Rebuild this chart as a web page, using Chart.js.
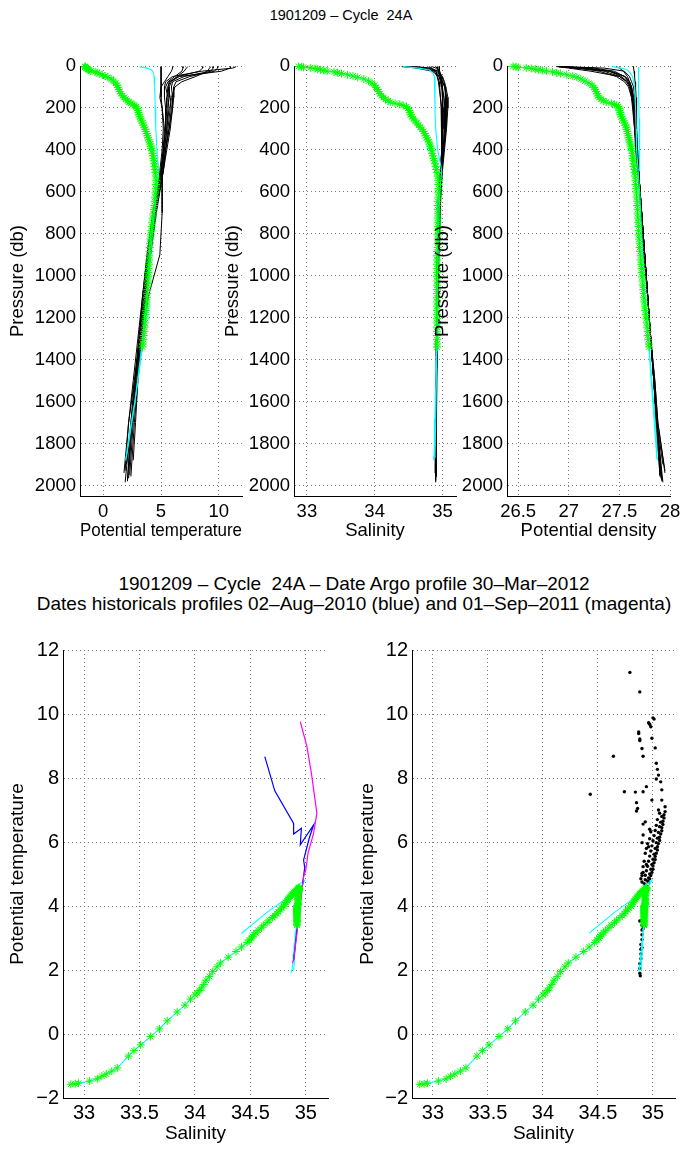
<!DOCTYPE html>
<html>
<head>
<meta charset="utf-8">
<script src="https://cdn.jsdelivr.net/npm/chart.js@4.4.1/dist/chart.umd.min.js"></script>
<style>
  html, body { margin: 0; padding: 0; background: #fff; }
  body { width: 682px; height: 1149px; position: relative; overflow: hidden;
         font-family: "Liberation Sans", Arial, Helvetica, sans-serif; color: #000; }
  .panel { position: absolute; }
  .title { position: absolute; text-align: center; white-space: nowrap; }
</style>
</head>
<body>
<div class="title" style="left:0;width:682px;top:6px;font-size:14.5px;line-height:18px;">1901209 – Cycle&nbsp; 24A</div>
<div class="title" style="left:13px;width:682px;top:574px;font-size:19px;line-height:20px;">1901209 – Cycle&nbsp; 24A – Date Argo profile 30–Mar–2012<br>Dates historicals profiles 02–Aug–2010 (blue) and 01–Sep–2011 (magenta)</div>

<canvas class="panel" id="pTemp" width="250" height="496" style="left:0;top:50px"></canvas>
<canvas class="panel" id="pSal" width="247" height="496" style="left:215px;top:50px"></canvas>
<canvas class="panel" id="pDens" width="257" height="496" style="left:425px;top:50px"></canvas>
<canvas class="panel" id="tsHist" width="340" height="519" style="left:0;top:630px"></canvas>
<canvas class="panel" id="tsDots" width="332" height="519" style="left:350px;top:630px"></canvas>

<script>
/* ============================================================================
   DATA — float profile (green stars + cyan line)
   ============================================================================ */
const floatP = [2, 4, 6, 9, 12, 15, 18, 21, 24, 28, 32, 36, 42, 48, 54, 62, 72, 82, 92, 102,
  112, 122, 132, 142, 150, 158, 166, 172, 178, 183, 188, 194, 202, 212, 222, 232, 242, 252, 262, 272,
  282, 292, 302, 312, 322, 332, 342, 352, 362, 372, 382, 392, 404, 416, 428, 440, 452, 466, 480, 494,
  508, 525, 545, 565, 585, 605, 625, 645, 665, 685, 705, 725, 745, 765, 785, 805, 825, 845, 865, 885,
  905, 925, 945, 965, 985, 1005, 1025, 1045, 1065, 1085, 1105, 1125, 1145, 1165, 1185, 1205, 1225, 1245, 1265, 1285,
  1305, 1325, 1340];
const floatT = [-1.57, -1.56, -1.54, -1.47, -1.40, -1.32, -1.25, -1.16, -1.06, -0.69, -0.52, -0.34, -0.08, 0.16, 0.41, 0.69, 0.90, 1.09, 1.22, 1.28,
  1.36, 1.44, 1.55, 1.68, 1.80, 1.95, 2.10, 2.22, 2.40, 2.58, 2.72, 2.86, 2.94, 3.00, 3.05, 3.10, 3.16, 3.24, 3.32, 3.40,
  3.48, 3.56, 3.64, 3.70, 3.76, 3.82, 3.88, 3.94, 4.00, 4.06, 4.11, 4.16, 4.21, 4.26, 4.30, 4.34, 4.38, 4.42, 4.45, 4.48,
  4.52, 4.55, 4.58, 4.57, 4.55, 4.52, 4.48, 4.45, 4.42, 4.38, 4.33, 4.28, 4.24, 4.20, 4.16, 4.12, 4.08, 4.05, 4.03, 4.01,
  3.99, 3.97, 3.95, 3.93, 3.91, 3.89, 3.87, 3.85, 3.83, 3.81, 3.79, 3.77, 3.74, 3.71, 3.68, 3.65, 3.62, 3.59, 3.55, 3.51,
  3.47, 3.43, 3.40];
const floatS = [32.88, 32.92, 32.95, 33.05, 33.12, 33.16, 33.20, 33.25, 33.30, 33.40, 33.45, 33.51, 33.60, 33.68, 33.75, 33.84, 33.91, 33.96, 34.00, 34.02,
  34.04, 34.06, 34.08, 34.10, 34.13, 34.16, 34.20, 34.23, 34.30, 34.37, 34.42, 34.47, 34.49, 34.51, 34.52, 34.53, 34.55, 34.57, 34.60, 34.62,
  34.65, 34.67, 34.70, 34.72, 34.74, 34.75, 34.77, 34.78, 34.80, 34.81, 34.82, 34.83, 34.84, 34.85, 34.86, 34.87, 34.88, 34.89, 34.90, 34.91,
  34.92, 34.93, 34.94, 34.94, 34.94, 34.94, 34.94, 34.93, 34.93, 34.93, 34.93, 34.93, 34.93, 34.93, 34.93, 34.93, 34.93, 34.93, 34.93, 34.92,
  34.92, 34.92, 34.92, 34.92, 34.92, 34.92, 34.92, 34.92, 34.92, 34.92, 34.92, 34.92, 34.92, 34.92, 34.92, 34.92, 34.92, 34.92, 34.92, 34.92,
  34.92, 34.92, 34.92];
const floatD = [26.45, 26.48, 26.50, 26.58, 26.63, 26.67, 26.70, 26.74, 26.78, 26.84, 26.88, 26.92, 26.98, 27.04, 27.08, 27.12, 27.16, 27.20, 27.23, 27.25,
  27.26, 27.27, 27.28, 27.29, 27.30, 27.32, 27.34, 27.37, 27.42, 27.45, 27.47, 27.49, 27.50, 27.50, 27.51, 27.51, 27.52, 27.53, 27.54, 27.55,
  27.56, 27.57, 27.57, 27.58, 27.58, 27.59, 27.59, 27.60, 27.60, 27.61, 27.61, 27.62, 27.62, 27.63, 27.63, 27.63, 27.64, 27.64, 27.64, 27.65,
  27.65, 27.655, 27.66, 27.66, 27.665, 27.67, 27.67, 27.675, 27.675, 27.68, 27.68, 27.685, 27.685, 27.69, 27.69, 27.69, 27.695, 27.70, 27.70, 27.705,
  27.71, 27.71, 27.715, 27.72, 27.72, 27.725, 27.73, 27.73, 27.735, 27.74, 27.74, 27.745, 27.75, 27.755, 27.76, 27.765, 27.77, 27.775, 27.78, 27.78,
  27.785, 27.79, 27.795];

// deep part of the float profile (cyan line only)
const deepP = [1380, 1440, 1500, 1560, 1620, 1680, 1740, 1800, 1860, 1880];
const deepT = [3.30, 3.15, 3.00, 2.85, 2.68, 2.50, 2.32, 2.15, 2.00, 1.95];
const deepS = [34.915, 34.91, 34.905, 34.90, 34.895, 34.89, 34.885, 34.88, 34.875, 34.87];
const deepD = [27.80, 27.81, 27.82, 27.83, 27.84, 27.85, 27.86, 27.865, 27.87, 27.875];

/* second cyan profile */
const refP = [3, 10, 19, 35, 50, 100, 200, 300, 400, 500, 600, 800, 1000, 1200, 1400, 1600, 1800, 1870];
const refT = [3.15, 3.80, 4.20, 4.35, 4.40, 4.45, 4.50, 4.55, 4.65, 4.80, 4.60, 4.25, 3.95, 3.60, 3.20, 2.75, 2.20, 1.98];
const refS = [34.42, 34.65, 34.81, 34.86, 34.88, 34.89, 34.89, 34.90, 34.93, 34.99, 34.96, 34.94, 34.93, 34.92, 34.91, 34.905, 34.895, 34.89];
const refD = [27.43, 27.52, 27.58, 27.61, 27.63, 27.65, 27.66, 27.665, 27.67, 27.685, 27.70, 27.72, 27.74, 27.77, 27.80, 27.83, 27.86, 27.87];
const refD2P = [5, 120, 250, 380, 500];
const refD2 = [27.69, 27.69, 27.695, 27.70, 27.70];

/* historical profiles (black) — shared levels, last level = histEnd */
const histP = [3, 10, 25, 50, 75, 100, 150, 200, 300, 400, 500, 700, 900, 1100, 1300, 1500, 1700];
const histEnd = [1975, 1985, 1957, 1880, 1940, 1965, 1930, 1980, 1900, 1950];
const histT = [
  [5.0, 5.0, 5.0, 5.0, 5.0, 5.0, 5.05, 5.1, 5.2, 5.1, 4.9, 4.5, 4.1, 3.7, 3.3, 2.9, 2.5, 2.1],
  [6.0, 6.0, 5.9, 5.6, 5.3, 5.0, 4.9, 5.1, 5.3, 5.2, 5.0, 4.4, 4.0, 3.6, 3.2, 2.8, 2.4, 1.9],
  [6.9, 6.9, 6.8, 6.2, 5.6, 5.4, 5.6, 5.7, 5.5, 5.3, 5.1, 5.1, 4.9, 3.9, 3.4, 3.0, 2.7, 2.4],
  [8.6, 8.6, 8.3, 6.5, 5.7, 5.6, 5.8, 5.9, 5.7, 5.4, 5.2, 4.6, 4.1, 3.7, 3.3, 3.0, 2.8, 2.6],
  [9.5, 9.5, 9.3, 7.0, 6.0, 5.9, 6.0, 6.0, 5.8, 5.5, 5.2, 4.5, 4.0, 3.6, 3.2, 2.7, 2.2, 1.8],
  [9.9, 9.9, 9.6, 7.5, 6.3, 6.1, 6.1, 6.0, 5.7, 5.4, 5.1, 4.4, 3.9, 3.5, 3.1, 2.8, 2.5, 2.2],
  [11.0, 11.0, 10.2, 6.6, 5.8, 5.6, 5.5, 5.5, 5.4, 5.2, 5.0, 4.3, 3.8, 3.4, 3.0, 2.6, 2.2, 1.9],
  [11.5, 11.2, 8.5, 6.0, 5.4, 5.3, 5.3, 5.4, 5.4, 5.2, 5.0, 4.4, 3.9, 3.5, 3.1, 2.7, 2.4, 2.1],
  [7.3, 7.2, 7.0, 6.4, 5.9, 5.7, 5.7, 5.6, 5.5, 5.3, 5.0, 4.3, 3.8, 3.4, 3.1, 2.8, 2.5, 2.0],
  [9.3, 9.2, 9.0, 8.0, 6.8, 6.2, 5.9, 5.8, 5.6, 5.4, 5.2, 4.5, 4.0, 3.6, 3.2, 2.9, 2.6, 2.3]
];
const histS = [
  [34.95, 34.95, 34.96, 34.97, 34.98, 34.99, 35.0, 35.0, 35.0, 34.99, 34.97, 34.95, 34.94, 34.93, 34.92, 34.91, 34.905, 34.9],
  [34.45, 34.7, 34.88, 34.92, 34.94, 34.95, 34.97, 34.99, 35.0, 34.99, 34.97, 34.94, 34.93, 34.92, 34.915, 34.91, 34.905, 34.9],
  [34.5, 34.75, 34.9, 34.95, 34.97, 34.99, 35.02, 35.04, 35.03, 35.01, 34.98, 34.97, 34.95, 34.93, 34.92, 34.915, 34.91, 34.905],
  [34.55, 34.8, 34.92, 34.97, 35.0, 35.03, 35.06, 35.07, 35.05, 35.02, 34.99, 34.96, 34.94, 34.93, 34.92, 34.915, 34.91, 34.91],
  [34.6, 34.82, 34.94, 35.0, 35.03, 35.05, 35.08, 35.08, 35.06, 35.03, 35.0, 34.96, 34.94, 34.93, 34.92, 34.91, 34.9, 34.895],
  [34.85, 34.9, 34.95, 34.99, 35.02, 35.04, 35.05, 35.05, 35.04, 35.02, 34.99, 34.95, 34.94, 34.93, 34.92, 34.91, 34.905, 34.9],
  [34.9, 34.92, 34.96, 34.98, 34.99, 35.0, 35.0, 35.01, 35.01, 35.0, 34.98, 34.95, 34.94, 34.93, 34.92, 34.91, 34.9, 34.9],
  [34.8, 34.85, 34.9, 34.93, 34.95, 34.96, 34.97, 34.98, 34.99, 34.99, 34.97, 34.95, 34.94, 34.93, 34.92, 34.91, 34.905, 34.9],
  [34.92, 34.93, 34.94, 34.96, 34.98, 35.0, 35.02, 35.03, 35.03, 35.01, 34.98, 34.95, 34.94, 34.93, 34.92, 34.91, 34.905, 34.9],
  [34.4, 34.62, 34.85, 34.95, 35.0, 35.04, 35.06, 35.06, 35.05, 35.02, 34.99, 34.96, 34.94, 34.93, 34.92, 34.915, 34.91, 34.905]
];
const histD = [
  [27.64, 27.64, 27.645, 27.65, 27.655, 27.66, 27.665, 27.67, 27.67, 27.68, 27.69, 27.72, 27.75, 27.78, 27.81, 27.84, 27.87, 27.92],
  [26.95, 27.35, 27.55, 27.6, 27.62, 27.64, 27.65, 27.66, 27.67, 27.68, 27.69, 27.72, 27.75, 27.78, 27.81, 27.84, 27.87, 27.93],
  [26.9, 27.25, 27.45, 27.55, 27.6, 27.62, 27.64, 27.65, 27.66, 27.67, 27.69, 27.71, 27.74, 27.78, 27.81, 27.84, 27.87, 27.9],
  [26.9, 27.2, 27.4, 27.52, 27.58, 27.61, 27.63, 27.64, 27.66, 27.67, 27.69, 27.72, 27.75, 27.78, 27.81, 27.84, 27.86, 27.89],
  [26.92, 27.18, 27.35, 27.5, 27.57, 27.6, 27.62, 27.64, 27.66, 27.67, 27.69, 27.72, 27.75, 27.78, 27.81, 27.85, 27.88, 27.95],
  [26.95, 27.1, 27.3, 27.47, 27.55, 27.59, 27.62, 27.63, 27.65, 27.67, 27.69, 27.72, 27.75, 27.78, 27.81, 27.84, 27.87, 27.91],
  [26.9, 27.0, 27.22, 27.5, 27.58, 27.61, 27.63, 27.64, 27.65, 27.66, 27.68, 27.72, 27.75, 27.78, 27.81, 27.85, 27.88, 27.95],
  [26.92, 27.05, 27.4, 27.56, 27.6, 27.62, 27.63, 27.64, 27.65, 27.67, 27.69, 27.72, 27.75, 27.78, 27.81, 27.84, 27.87, 27.92],
  [27.47, 27.5, 27.54, 27.58, 27.6, 27.62, 27.64, 27.65, 27.66, 27.67, 27.69, 27.72, 27.75, 27.78, 27.81, 27.84, 27.87, 27.93],
  [26.88, 27.1, 27.42, 27.55, 27.59, 27.61, 27.63, 27.64, 27.66, 27.67, 27.69, 27.72, 27.75, 27.78, 27.81, 27.84, 27.87, 27.9]
];

/* two historical profiles on the left T-S plot */
const blueS = [34.63, 34.72, 34.89, 34.89, 34.96, 34.95, 35.07, 35.03, 34.98, 34.99, 34.96, 34.93, 34.89];
const blueT = [8.67, 7.60, 6.58, 6.25, 6.43, 5.91, 6.53, 6.11, 5.44, 5.20, 4.40, 3.56, 2.31];
const magS = [34.95, 35.01, 35.05, 35.10, 35.07, 35.02, 35.00, 34.98, 34.95, 34.92, 34.89, 34.88];
const magT = [9.76, 8.98, 8.15, 6.90, 6.27, 5.65, 5.13, 4.92, 4.08, 3.15, 2.31, 2.22];

/* historical points on the right T-S plot */
const dotS = [34.79, 34.88, 35.00, 35.01, 34.96, 34.97, 34.98, 34.87, 34.87, 34.88, 34.88, 34.99, 35.02, 34.90, 34.91, 34.64,
  35.03, 35.04, 35.05, 35.03, 35.07, 34.94, 34.74, 34.84, 34.91, 34.43, 35.08, 34.99, 34.85, 34.86, 34.85, 35.05,
  35.08, 35.11, 34.91, 34.93, 34.97, 34.98, 34.90, 34.91, 34.96, 34.93, 34.91, 34.90,
  35.11, 35.10, 35.10, 35.09, 35.09, 35.08, 35.08, 35.07, 35.06, 35.06, 35.05, 35.04, 35.04, 35.03, 35.02, 35.02,
  35.01, 35.00, 35.00, 34.99, 34.98, 34.97, 34.96,
  35.08, 35.07, 35.06, 35.05, 35.04, 35.03, 35.02, 35.01, 35.00, 34.99, 34.98, 34.97, 34.96, 34.95,
  35.06, 35.04, 35.03, 35.02, 35.01, 35.00, 34.99, 34.98, 34.97, 34.96, 34.95, 34.94, 34.93, 34.93, 34.92, 34.94,
  34.95, 34.94, 34.97, 34.92, 34.94, 34.90, 34.89, 34.90, 34.91,
  34.93, 34.92, 34.92, 34.92, 34.91, 34.91, 34.90, 34.88, 34.90, 34.90, 34.90, 34.90, 34.89, 34.89, 34.89, 34.89,
  34.88, 34.88, 34.88, 34.885, 34.91, 34.92, 34.91, 34.90];
const dotT = [11.30, 10.69, 9.88, 9.84, 9.73, 9.68, 9.60, 9.44, 9.39, 9.22, 9.17, 9.24, 8.94, 8.92, 8.68, 8.68,
  8.46, 8.27, 8.09, 7.97, 7.88, 7.73, 7.57, 7.56, 7.57, 7.49, 7.63, 7.31, 7.23, 7.05, 6.97, 7.00,
  7.31, 7.10, 6.56, 6.63, 6.40, 6.32, 5.98, 6.22, 5.85, 5.65, 5.23, 5.02,
  6.95, 6.85, 6.75, 6.65, 6.55, 6.45, 6.35, 6.25, 6.15, 6.05, 5.95, 5.85, 5.75, 5.65, 5.55, 5.45,
  5.35, 5.25, 5.15, 5.05, 4.95, 4.85, 4.75,
  6.80, 6.62, 6.48, 6.30, 6.12, 5.98, 5.80, 5.62, 5.46, 5.30, 5.15, 5.00, 4.88, 4.78,
  6.90, 6.70, 6.52, 6.36, 6.20, 6.04, 5.88, 5.72, 5.56, 5.40, 5.24, 5.10, 4.96, 4.82, 4.70, 4.62,
  5.95, 5.80, 6.10, 5.40, 5.30, 4.95, 4.85, 4.75, 5.05,
  4.45, 4.30, 4.15, 4.00, 3.85, 3.70, 3.55, 3.53, 3.40, 3.25, 3.10, 2.95, 2.80, 2.65, 2.50, 2.35,
  2.20, 2.05, 1.90, 1.82, 3.95, 3.62, 3.30, 2.70];

/* axis ticks */
const pressTicks = [0, 200, 400, 600, 800, 1000, 1200, 1400, 1600, 1800, 2000];
const tempTicks = [0, 5, 10];
const salTicks = [33, 34, 35];
const densTicks = [26.5, 27, 27.5, 28];
const tsSalTicks = [33, 33.5, 34, 34.5, 35];
const tsTempTicks = [-2, 0, 2, 4, 6, 8, 10, 12];

/* ============================================================================
   CHART DEFAULTS
   ============================================================================ */
Chart.defaults.font.family = '"Liberation Sans", Arial, Helvetica, sans-serif';
Chart.defaults.color = "#000";
Chart.defaults.animation = false;
Chart.defaults.plugins.legend.display = false;
Chart.defaults.plugins.tooltip.enabled = false;

const GRID = "#7a7a7a";
const CYAN = "#00ffff";
const GREEN = "#00ff00";

function fmt(v) {
    return v < 0 ? "\u2212" + Math.abs(v) : String(v);
}

function axis(o) {
    const isY = o.pos === "left";
    return {
        type: "linear",
        position: o.pos,
        min: o.min,
        max: o.max,
        reverse: !!o.reverse,
        afterBuildTicks: s => { s.ticks = o.ticks.map(v => ({ value: v })); },
        afterFit: s => {
            if (isY) s.width = o.size; else s.height = o.size;
            s.paddingLeft = s.paddingRight = s.paddingTop = s.paddingBottom = 0;
        },
        ticks: {
            autoSkip: false, maxRotation: 0, minRotation: 0,
            padding: o.tickPad, font: { size: o.tickSize }, color: "#000",
            callback: v => fmt(v)
        },
        grid: { color: GRID, lineWidth: 1, drawTicks: false },
        border: { display: true, color: "#000", width: 1, dash: [1, 3] },
        title: {
            display: true, text: o.title, color: "#000", font: { size: o.titleSize },
            padding: isY ? { top: o.titlePad, bottom: 0 } : { top: 0, bottom: o.titlePad }
        }
    };
}

function pts(xs, ys) {
    return xs.map((x, i) => ({ x, y: ys[i] }));
}

function line(data, color, width, order) {
    return { data, showLine: true, borderColor: color, borderWidth: width,
             pointRadius: 0, tension: 0, fill: false, order, clip: false };
}

function stars(data, order) {
    return { data, showLine: false, pointStyle: "star", pointRadius: 4,
             borderColor: GREEN, backgroundColor: GREEN, borderWidth: 1, order, clip: false };
}

function dots(data, order) {
    return { data, showLine: false, pointStyle: "circle", pointRadius: 1.7,
             backgroundColor: "#000", borderWidth: 0, order, clip: false };
}

/* ============================================================================
   TOP ROW — PROFILES VS PRESSURE
   ============================================================================ */
function profileChart(id, o) {
    const datasets = [];
    // float: green stars on top, cyan line under them
    datasets.push(stars(pts(o.floatX, floatP), 0));
    datasets.push(line(pts(o.floatX.concat(o.deepX), floatP.concat(deepP)), CYAN, 1.1, 1));
    datasets.push(line(pts(o.refX, refP), CYAN, 1.1, 2));
    if (o.extra) datasets.push(line(pts(o.extra, refD2P), CYAN, 1.1, 2));
    o.histX.forEach((h, k) => {
        datasets.push(line(pts(h, histP.concat(histEnd[k])), "#000", 1, 3));
    });

    new Chart(document.getElementById(id), {
        type: "scatter",
        data: { datasets },
        options: {
            responsive: false,
            layout: { autoPadding: false, padding: { left: 0, right: o.padRight, top: 16, bottom: 0 } },
            scales: {
                x: axis({ pos: "bottom", min: o.min, max: o.max, ticks: o.ticks, size: 50,
                          tickPad: 4.9, tickSize: 18.5, title: o.title, titleSize: 18.5, titlePad: 3.9 }),
                y: axis({ pos: "left", min: 0, max: 2050, reverse: true, ticks: pressTicks, size: o.yWidth,
                          tickPad: 4, tickSize: 18.5, title: "Pressure (db)", titleSize: 18.5, titlePad: 6.9 })
            }
        }
    });
}

profileChart("pTemp", {
    floatX: floatT, deepX: deepT, refX: refT, histX: histT,
    min: -2, max: 12, ticks: tempTicks, title: "Potential temperature",
    yWidth: 80, padRight: 8
});
profileChart("pSal", {
    floatX: floatS, deepX: deepS, refX: refS, histX: histS,
    min: 32.81, max: 35.2, ticks: salTicks, title: "Salinity",
    yWidth: 79, padRight: 6
});
profileChart("pDens", {
    floatX: floatD, deepX: deepD, refX: refD, extra: refD2, histX: histD,
    min: 26.39, max: 28.0, ticks: densTicks, title: "Potential density",
    yWidth: 82, padRight: 12
});

/* ============================================================================
   BOTTOM ROW — THETA / SALINITY
   ============================================================================ */
function tsChart(id, extraSets, yWidth, padRight) {
    const datasets = [
        stars(pts(floatS, floatT), 0),
        line(pts(floatS.concat(deepS), floatT.concat(deepT)), CYAN, 1.1, 3),
        line(pts(refS, refT), CYAN, 1.1, 4)
    ].concat(extraSets);

    new Chart(document.getElementById(id), {
        type: "scatter",
        data: { datasets },
        options: {
            responsive: false,
            layout: { autoPadding: false, padding: { left: 0, right: padRight, top: 20, bottom: 0 } },
            scales: {
                x: axis({ pos: "bottom", min: 32.81, max: 35.2, ticks: tsSalTicks, size: 51,
                          tickPad: 3, tickSize: 20, title: "Salinity", titleSize: 19, titlePad: 3.6 }),
                y: axis({ pos: "left", min: -2, max: 12, ticks: tsTempTicks, size: yWidth,
                          tickPad: 4, tickSize: 20, title: "Potential temperature", titleSize: 19, titlePad: 6.6 })
            }
        }
    });
}

tsChart("tsHist", [
    line(pts(magS, magT), "#ff00ff", 1.2, 1),
    line(pts(blueS, blueT), "#0000ff", 1.2, 2)
], 63, 12);

tsChart("tsDots", [
    dots(pts(dotS, dotT), 5)
], 62, 7);
</script>
</body>
</html>
